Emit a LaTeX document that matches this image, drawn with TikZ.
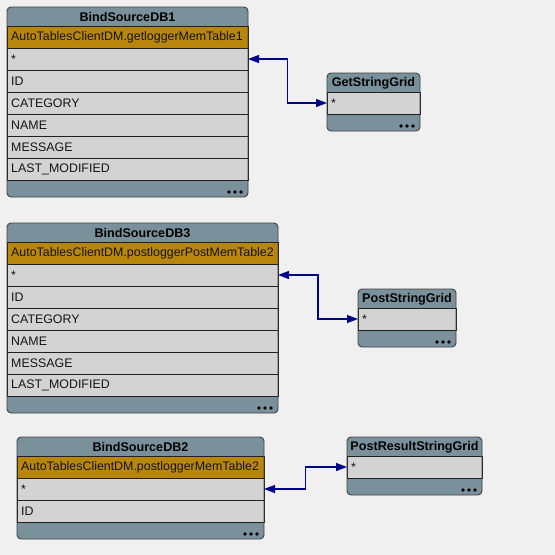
\documentclass[tikz,border=0pt]{standalone}
\usepackage{fontspec}
\setmainfont{Liberation Sans}
\usetikzlibrary{calc,arrows.meta}
\definecolor{bgc}{HTML}{F0F0F0}
\definecolor{hdrc}{HTML}{7A919B}
\definecolor{orc}{HTML}{B8860B}
\definecolor{rowc}{HTML}{D3D3D3}
\definecolor{bordc}{HTML}{404040}
\definecolor{linec}{HTML}{202020}
\definecolor{connc}{HTML}{00008B}
\definecolor{txtc}{HTML}{141414}
\tikzset{
  x=1pt,y=-1pt,
  tblbox/.style={rectangle, rounded corners=4pt, fill=hdrc, draw=none, inner sep=0pt, outer sep=0pt},
  grayrow/.style={rectangle, fill=rowc, draw=linec, line width=0.8pt, minimum height=22pt, inner sep=0pt, outer sep=0pt},
  orangerow/.style={grayrow, fill=orc},
  rowtext/.style={anchor=west, inner sep=0pt, text=txtc, font=\fontsize{12.4}{14}\selectfont},
  titletext/.style={inner sep=0pt, text=black, font=\fontsize{12.6}{14}\selectfont\bfseries},
  conn/.style={draw=connc, line width=1.2pt, {Triangle[length=11pt,width=8pt]}-{Triangle[length=11pt,width=8pt]}},
}
% #1 id, #2 x, #3 ytop, #4 width, #5 title, #6 index of orange row (0 = none), #7 rows, #8 row count
\newcommand\mytable[8]{%
  \pgfmathsetmacro\tbh{19+22*#8+17}%
  \pgfmathsetmacro\tbb{#3+\tbh}%
  \node[tblbox, minimum width=#4pt, minimum height=\tbh pt, anchor=north west] (#1) at (#2,#3) {};
  \node[titletext] (#1-t) at ({#2+#4/2},{#3+10}) {#5};
  \foreach \t [count=\i] in {#7} {
    \ifnum\i=#6\relax\def\rc{orangerow}\else\def\rc{grayrow}\fi
    \node[\rc, minimum width=#4pt, anchor=north west] (#1-r\i) at (#2,{#3+19+22*(\i-1)}) {};
    \node[rowtext] at ([xshift=4pt,yshift=-0.5pt]#1-r\i.west) {\t};
  }
  \foreach \d in {7,13,19} \fill[black] ({#2+#4-\d},{\tbb-5}) circle (1.9pt);
  \draw[bordc, line width=0.9pt, rounded corners=4pt] (#1.north west) rectangle (#1.south east);
}
\begin{document}
\begin{tikzpicture}
\fill[bgc] (0,0) rectangle (555,555);
\useasboundingbox (0,0) rectangle (555,555);
\mytable{db1}{7}{7}{241}{BindSourceDB1}{1}{AutoTablesClientDM.getloggerMemTable1,*,ID,CATEGORY,NAME,MESSAGE,LAST\_MODIFIED}{7}
\mytable{gsg}{327}{73}{93}{GetStringGrid}{0}{*}{1}
\mytable{db3}{7}{223}{271}{BindSourceDB3}{1}{AutoTablesClientDM.postloggerPostMemTable2,*,ID,CATEGORY,NAME,MESSAGE,LAST\_MODIFIED}{7}
\mytable{psg}{358}{289}{98}{PostStringGrid}{0}{*}{1}
\mytable{db2}{17}{437}{247}{BindSourceDB2}{1}{AutoTablesClientDM.postloggerMemTable2,*,ID}{3}
\mytable{prsg}{347}{437}{135}{PostResultStringGrid}{0}{*}{1}
\draw[conn] (db1-r2.east) -| ($(db1-r2.east)!.5!(gsg-r1.west)$) |- (gsg-r1.west);
\draw[conn] (db3-r2.east) -| ($(db3-r2.east)!.5!(psg-r1.west)$) |- (psg-r1.west);
\draw[conn] (db2-r2.east) -| ($(db2-r2.east)!.5!(prsg-r1.west)$) |- (prsg-r1.west);
\end{tikzpicture}
\end{document}
